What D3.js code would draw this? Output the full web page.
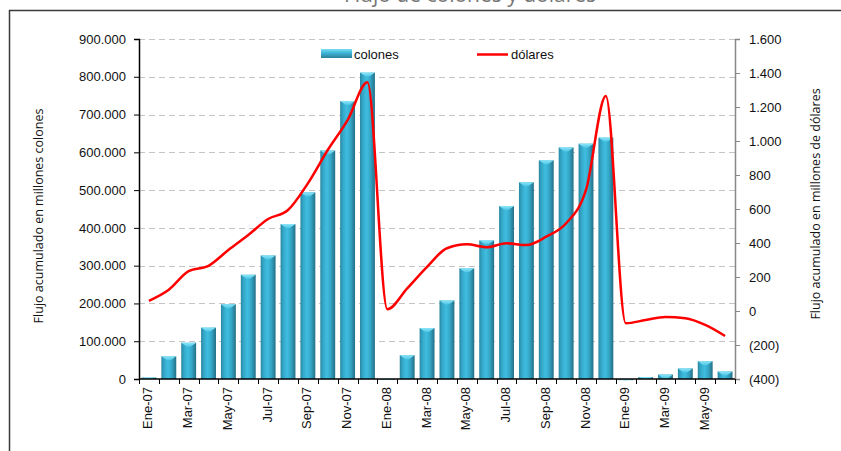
<!DOCTYPE html>
<html>
<head>
<meta charset="utf-8">
<script src="https://cdn.jsdelivr.net/npm/d3@7"></script>
<style>
  html, body { margin: 0; padding: 0; background: #fff; }
  svg { display: block; }
</style>
</head>
<body>
<svg id="chart" width="841" height="451"></svg>
<script>
// Monthly categories, January 2007 to June 2009
const months = [
  "Ene-07","Feb-07","Mar-07","Abr-07","May-07","Jun-07","Jul-07","Ago-07","Sep-07","Oct-07","Nov-07","Dic-07",
  "Ene-08","Feb-08","Mar-08","Abr-08","May-08","Jun-08","Jul-08","Ago-08","Sep-08","Oct-08","Nov-08","Dic-08",
  "Ene-09","Feb-09","Mar-09","Abr-09","May-09","Jun-09"
];
// Accumulated flow, millions of colones (bars, left axis)
const colones = [
  4000, 60000, 96000, 136000, 198000, 276000, 327000, 410000, 494000, 605000, 736000, 811000,
  -2000, 63000, 135000, 208000, 293000, 367000, 458000, 521000, 579000, 613000, 623000, 639000,
  -3000, 5000, 12000, 28000, 47000, 20000
];
// Accumulated flow, millions of dollars (line, right axis)
const dolares = [
  60, 125, 235, 266, 359, 447, 541, 594, 751, 947, 1123, 1345,
  10, 133, 260, 369, 392, 375, 398, 388, 437, 516, 712, 1265,
  -72, -53, -35, -43, -82, -147
];
const leftTicks = [0, 100000, 200000, 300000, 400000, 500000, 600000, 700000, 800000, 900000];
const rightTicks = [-400, -200, 0, 200, 400, 600, 800, 1000, 1200, 1400, 1600];
const seriesNames = ["colones", "dólares"];
const chartTitle = "Flujo de colones y dólares";

const svg = d3.select("#chart");
const m = { left: 139, right: 735, top: 39, bottom: 379 };

const x = d3.scaleBand().domain(months).range([m.left, m.right]).paddingInner(0.25).paddingOuter(0.125);
const xOuter = d3.scaleBand().domain(months).range([m.left, m.right]).padding(0);
const yL = d3.scaleLinear().domain([0, 900000]).range([m.bottom, m.top]);
const yR = d3.scaleLinear().domain([-400, 1600]).range([m.bottom, m.top]);

// Spanish-style number formatting: dot thousands separator, negatives in parentheses
const fmt = d3.formatLocale({ decimal: ",", thousands: ".", grouping: [3], currency: ["", ""] });
const fNum = fmt.format(",.0f");
const fParen = v => v < 0 ? "(" + fNum(-v) + ")" : fNum(v);

const defs = svg.append("defs");
const g1 = defs.append("linearGradient").attr("id", "barGrad").attr("x1", 0).attr("x2", 1).attr("y1", 0).attr("y2", 0);
[[0, "#2a87a2"], [0.2, "#35a9ca"], [0.45, "#3fbde0"], [0.7, "#35a6c6"], [1, "#246f86"]]
  .forEach(([o, c]) => g1.append("stop").attr("offset", o).attr("stop-color", c));
const g2 = defs.append("linearGradient").attr("id", "capGrad").attr("x1", 0).attr("x2", 0).attr("y1", 0).attr("y2", 1);
[[0, "#8ee6f8"], [1, "#4cc6e6"]].forEach(([o, c]) => g2.append("stop").attr("offset", o).attr("stop-color", c));
const g3 = defs.append("linearGradient").attr("id", "legGrad").attr("x1", 0).attr("x2", 0).attr("y1", 0).attr("y2", 1);
[[0, "#7fdcf2"], [0.4, "#3fb9da"], [1, "#2a7f98"]].forEach(([o, c]) => g3.append("stop").attr("offset", o).attr("stop-color", c));

// Outer frame
svg.append("path").attr("d", `M9.5,451 V10.5 H841`).attr("fill", "none").attr("stroke", "#3a3a3a").attr("stroke-width", 1.5);

// Title (sits above the frame's top edge)
svg.append("text").attr("x", 470).attr("y", 2).attr("text-anchor", "middle")
  .attr("font-family", "'Open Sans', sans-serif").attr("font-size", 21)
  .attr("fill", "#777").text(chartTitle);

// Gridlines
svg.append("g").selectAll("line").data(leftTicks.filter(d => d > 0)).join("line")
  .attr("x1", m.left).attr("x2", m.right)
  .attr("y1", d => Math.round(yL(d)) + 0.5).attr("y2", d => Math.round(yL(d)) + 0.5)
  .attr("stroke", "#c4c4c4").attr("stroke-width", 1).attr("stroke-dasharray", "6,4");

// Bars
const bars = svg.append("g");
bars.selectAll("rect").data(colones).join("rect")
  .attr("x", (d, i) => x(months[i]))
  .attr("width", x.bandwidth())
  .attr("y", d => yL(Math.max(0, d)))
  .attr("height", d => Math.abs(yL(d) - yL(0)))
  .attr("fill", "url(#barGrad)");
// light bevelled cap on top of each bar
bars.selectAll("path.cap").data(colones).join("path").attr("class", "cap")
  .attr("d", (d, i) => {
    const x0 = x(months[i]), w = x.bandwidth(), yt = yL(Math.max(0, d));
    const h = Math.min(4, Math.abs(yL(d) - yL(0)));
    return `M${x0},${yt} H${x0 + w} L${x0 + w * 0.62},${yt + h} H${x0 + w * 0.38} Z`;
  })
  .attr("fill", "url(#capGrad)");

// Line series (smoothed)
const line = d3.line()
  .x((d, i) => x(months[i]) + x.bandwidth() / 2)
  .y(d => yR(d))
  .curve(d3.curveMonotoneX);
svg.append("path").datum(dolares).attr("d", line)
  .attr("fill", "none").attr("stroke", "#ff0000").attr("stroke-width", 2.5);

const fontAx = "'Liberation Sans', Arial, sans-serif";

// Left axis
const axL = svg.append("g").attr("transform", `translate(${m.left},0)`)
  .call(d3.axisLeft(yL).tickValues(leftTicks).tickFormat(fNum).tickSize(5).tickPadding(8));
axL.select(".domain").attr("stroke", "#000").attr("stroke-width", 1.5);
axL.selectAll(".tick line").attr("stroke", "#000");
axL.selectAll("text").attr("font-family", fontAx).attr("font-size", 13).attr("fill", "#111");

// Right axis
const axR = svg.append("g").attr("transform", `translate(${m.right},0)`)
  .call(d3.axisRight(yR).tickValues(rightTicks).tickFormat(fParen).tickSize(5).tickPadding(9));
axR.select(".domain").attr("stroke", "#888").attr("stroke-width", 1.5);
axR.selectAll(".tick line").attr("stroke", "#888");
axR.selectAll("text").attr("font-family", fontAx).attr("font-size", 13).attr("fill", "#111");

// Category axis: ticks on band boundaries, labels every second month
const axX = svg.append("g").attr("transform", `translate(0,${m.bottom})`);
axX.append("line").attr("x1", m.left).attr("x2", m.right).attr("y1", 0).attr("y2", 0)
  .attr("stroke", "#000").attr("stroke-width", 1.5);
axX.selectAll("line.tk").data(months.concat(["end"])).join("line").attr("class", "tk")
  .attr("x1", (d, i) => Math.round(m.left + i * xOuter.step()) + 0.5)
  .attr("x2", (d, i) => Math.round(m.left + i * xOuter.step()) + 0.5)
  .attr("y1", 0).attr("y2", 5).attr("stroke", "#000");
axX.selectAll("text").data(months.filter((d, i) => i % 2 === 0)).join("text")
  .attr("transform", d => `translate(${x(d) + x.bandwidth() / 2 - 1},8) rotate(-90)`)
  .attr("text-anchor", "end").attr("dy", "0.35em")
  .attr("font-family", fontAx).attr("font-size", 13).attr("fill", "#111")
  .text(d => d);

// Axis titles
const fontTitle = "'Open Sans', sans-serif";
svg.append("text").attr("transform", "translate(43,216) rotate(-90)").attr("text-anchor", "middle")
  .attr("font-family", fontTitle).attr("font-size", 12.5).attr("fill", "#111")
  .text("Flujo acumulado en millones colones");
svg.append("text").attr("transform", "translate(820,204) rotate(-90)").attr("text-anchor", "middle")
  .attr("font-family", fontTitle).attr("font-size", 12.5).attr("fill", "#111")
  .text("Flujo acumulado en millones de dólares");

// Legend
const leg = svg.append("g");
leg.append("rect").attr("x", 321).attr("y", 49).attr("width", 31).attr("height", 9).attr("fill", "url(#legGrad)");
leg.append("text").attr("x", 354).attr("y", 59).attr("font-family", fontAx).attr("font-size", 13).attr("fill", "#111").text(seriesNames[0]);
leg.append("line").attr("x1", 477).attr("x2", 508).attr("y1", 54.5).attr("y2", 54.5).attr("stroke", "#ff0000").attr("stroke-width", 2.5);
leg.append("text").attr("x", 511).attr("y", 59).attr("font-family", fontAx).attr("font-size", 13).attr("fill", "#111").text(seriesNames[1]);
</script>
</body>
</html>
